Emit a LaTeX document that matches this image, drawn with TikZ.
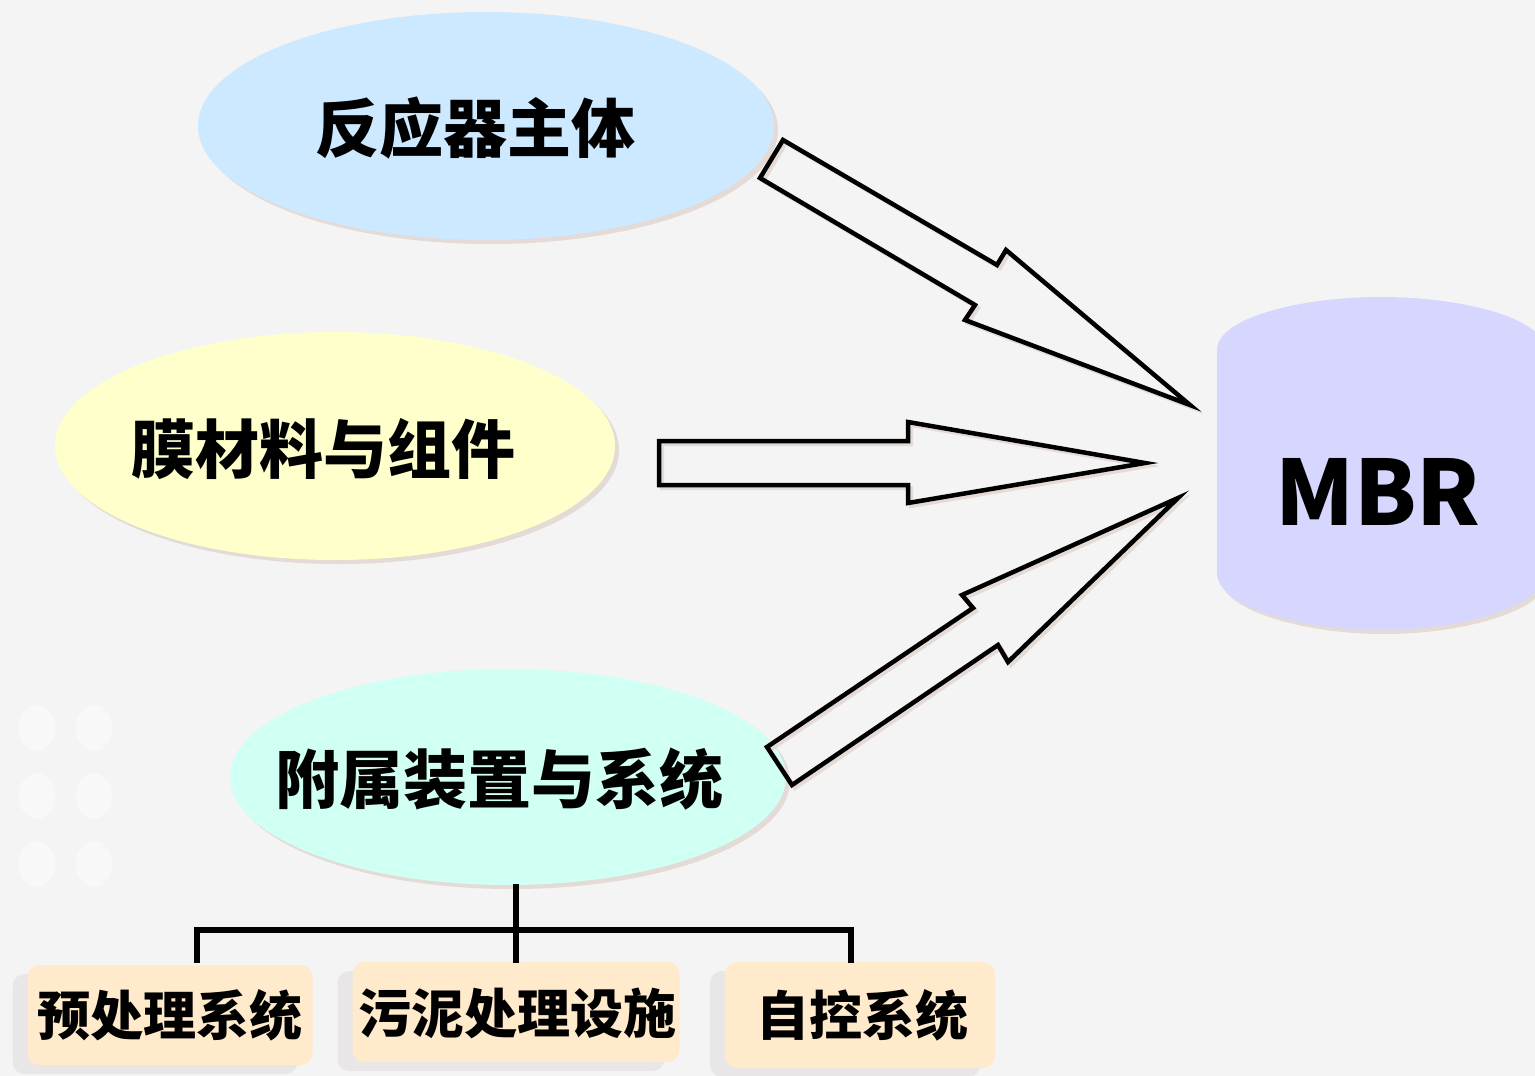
\documentclass[tikz,border=0pt]{standalone}
\usepackage{fontspec}
\setmainfont{Noto Sans CJK SC}
\usetikzlibrary{shapes.geometric,shadows}
\definecolor{bg}{HTML}{F4F4F4}
\definecolor{dotc}{HTML}{F8F8F8}
\definecolor{blueE}{HTML}{CDE9FF}
\definecolor{yellowE}{HTML}{FFFFCC}
\definecolor{cyanE}{HTML}{D0FFF4}
\definecolor{mbrC}{HTML}{D6D6FF}
\definecolor{peach}{HTML}{FFEACB}
\definecolor{shad}{HTML}{E4DAD6}
\definecolor{boxshad}{HTML}{E8E6E6}
\begin{document}
\begin{tikzpicture}[x=1pt,y=-1pt,
  ell/.style={ellipse, inner sep=0pt, draw=none,
    drop shadow={shadow xshift=4pt, shadow yshift=-4pt, fill=shad, opacity=1}},
  biglab/.style={font=\fontsize{64}{64}\selectfont\bfseries, inner sep=0pt},
  smalllab/.style={font=\fontsize{53}{53}\selectfont\bfseries, inner sep=0pt},
  subbox/.style={rectangle, rounded corners=12pt, fill=peach, inner sep=0pt,
    drop shadow={shadow xshift=-15pt, shadow yshift=-9pt, fill=boxshad, opacity=1}},
  arrowline/.style={draw=black, line width=4.5pt, line join=miter},
  arrowshadow/.style={draw=shad, line width=4pt, line join=miter},
  treeline/.style={draw=black, line width=5.5pt}
]
\fill[bg] (0,0) rectangle (1535,1076);
\useasboundingbox (0,0) rectangle (1535,1076);

% faint dots
\foreach \xx in {37,94} \foreach \yy in {728,796,864}
  \fill[dotc] (\xx,\yy) ellipse [x radius=18.5, y radius=23];

% ellipses
\node[ell, fill=blueE, minimum width=576pt, minimum height=228pt] (e1) at (486,126) {};
\node[biglab] (t1) at (475,128) {反应器主体};
\node[ell, fill=yellowE, minimum width=560pt, minimum height=228pt] (e2) at (335,446) {};
\node[biglab] (t2) at (323,449) {膜材料与组件};
\node[ell, fill=cyanE, minimum width=556pt, minimum height=216pt] (e3) at (508,777) {};
\node[biglab] (t3) at (499,779) {附属装置与系统};

% MBR can
\fill[shad] ([shift={(3,4)}]1217,573) -- ([shift={(3,4)}]1217,350)
  .. controls ([shift={(3,4)}]1217,318) and ([shift={(3,4)}]1300,297) .. ([shift={(3,4)}]1381,297)
  .. controls ([shift={(3,4)}]1462,297) and ([shift={(3,4)}]1545,318) .. ([shift={(3,4)}]1545,350)
  -- ([shift={(3,4)}]1545,573)
  .. controls ([shift={(3,4)}]1545,606) and ([shift={(3,4)}]1462,630) .. ([shift={(3,4)}]1381,630)
  .. controls ([shift={(3,4)}]1300,630) and ([shift={(3,4)}]1217,606) .. ([shift={(3,4)}]1217,573) -- cycle;
\fill[mbrC] (1217,573) -- (1217,350)
  .. controls (1217,318) and (1300,297) .. (1381,297)
  .. controls (1462,297) and (1545,318) .. (1545,350)
  -- (1545,573)
  .. controls (1545,606) and (1462,630) .. (1381,630)
  .. controls (1300,630) and (1217,606) .. (1217,573) -- cycle;
\node[font=\fontsize{90}{90}\selectfont\bfseries, inner sep=0pt] (mbr) at (1378,492) {MBR};

% block arrows
\begin{scope}[shift={(3,3)}]
\draw[arrowshadow] (783,140) -- (997,265) -- (1006,250) -- (1190,405) -- (965,320) -- (975,305) -- (760,178) -- cycle;
\draw[arrowshadow] (659,441) -- (908,441) -- (908,422) -- (1145,463) -- (908,503) -- (908,485) -- (659,485) -- cycle;
\draw[arrowshadow] (767,747) -- (973,608) -- (962,595) -- (1178,498) -- (1008,662) -- (998,645) -- (792,785) -- cycle;
\end{scope}
\draw[arrowline] (783,140) -- (997,265) -- (1006,250) -- (1190,405) -- (965,320) -- (975,305) -- (760,178) -- cycle;
\draw[arrowline] (659,441) -- (908,441) -- (908,422) -- (1145,463) -- (908,503) -- (908,485) -- (659,485) -- cycle;
\draw[arrowline] (767,747) -- (973,608) -- (962,595) -- (1178,498) -- (1008,662) -- (998,645) -- (792,785) -- cycle;

% sub boxes
\node[subbox, minimum width=285pt, minimum height=100pt] (b1) at (170,1015) {};
\node[smalllab] (s1) at (170,1015) {预处理系统};
\node[subbox, minimum width=327pt, minimum height=100pt] (b2) at (516,1012) {};
\node[smalllab] (s2) at (517,1013) {污泥处理设施};
\node[subbox, minimum width=270pt, minimum height=106pt] (b3) at (860,1015) {};
\node[smalllab] (s3) at (862,1015) {自控系统};

% tree
\coordinate (top) at (516,884);
\coordinate (j) at (516,930);
\coordinate (d1) at (197,963);
\coordinate (d2) at (516,963);
\coordinate (d3) at (851,963);
\draw[treeline] (top) -- (d2);
\draw[treeline] (d1) |- (j) -| (d3);
\end{tikzpicture}
\end{document}
